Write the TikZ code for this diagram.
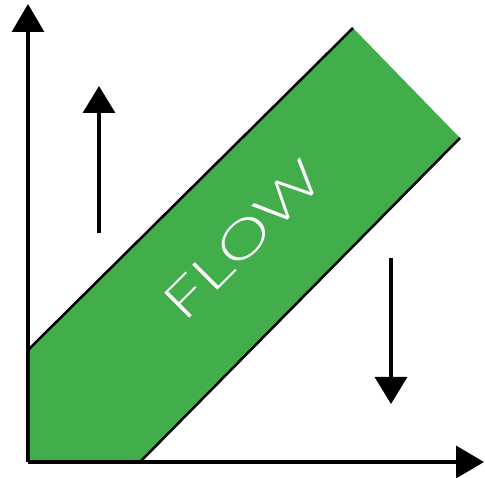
\documentclass[tikz,border=0pt]{standalone}
\usepackage{fontspec}
\newfontfamily\flowfont{Lato Light}
\usetikzlibrary{arrows.meta}
\definecolor{flowgreen}{RGB}{66,174,75}
\tikzset{
  axis/.style={line width=3.5pt, -{Triangle[length=28pt,width=32pt]}},
  motion/.style={line width=3.5pt, -{Triangle[length=27pt,width=32pt]}},
  edge/.style={line width=2.5pt, black},
}
\begin{document}
\begin{tikzpicture}[x=1pt,y=-1pt]
\useasboundingbox (0,0) rectangle (485,478);
% corner points
\coordinate (o) at (28,462);
\coordinate (yt) at (28,4);
\coordinate (xt) at (484,462);
\coordinate (a) at (28,350);
\coordinate (b) at (353,28);
\coordinate (c) at (460,138);
\coordinate (d) at (140,462);
% band
\fill[flowgreen] (a) -- (b) -- (c) -- (d) -- (o) -- cycle;
\draw[edge] (a) -- (b);
\draw[edge] (c) -- (d);
% axes
\draw[axis] (o) -- (yt);
\draw[axis] (o) -- (xt);
% up and down arrows
\coordinate (u1) at (99,233);
\coordinate (u2) at (99,86);
\coordinate (d1) at (391,258);
\coordinate (d2) at (391,404);
\draw[motion] (u1) -- (u2);
\draw[motion] (d1) -- (d2);
% label
\node[text=white, rotate=45, inner sep=0pt, font=\flowfont\fontsize{50}{50}\selectfont] (flow) at (243,240) {\scalebox{1.42}[1]{FLOW}};
\end{tikzpicture}
\end{document}
